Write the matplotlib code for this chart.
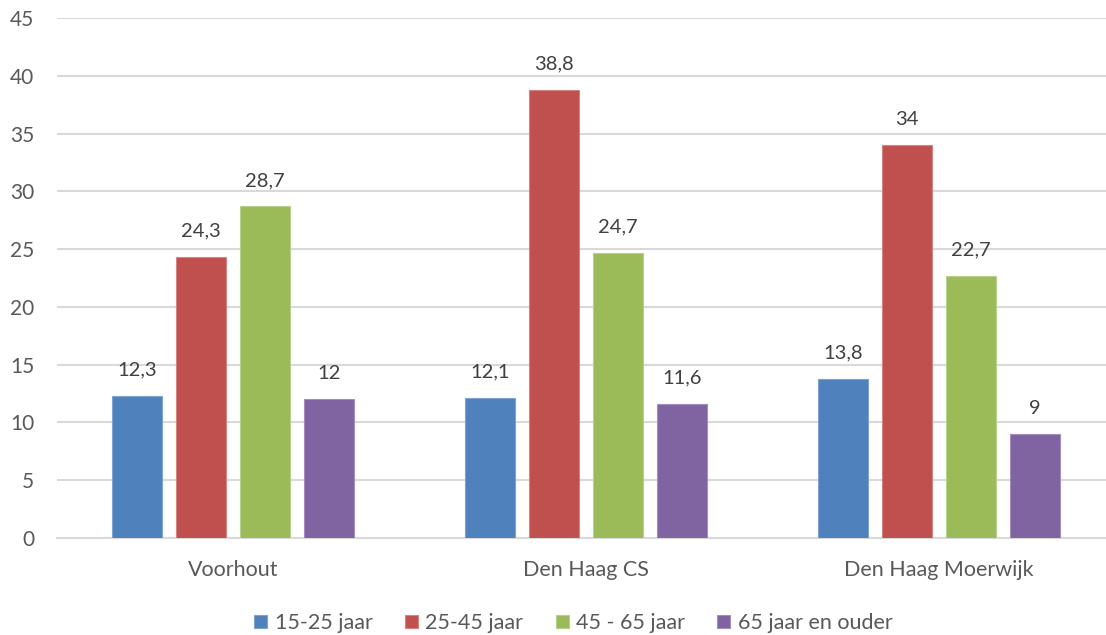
import matplotlib
matplotlib.use("Agg")
import matplotlib.pyplot as plt
import numpy as np

plt.rcParams['font.family'] = ['Lato', 'DejaVu Sans']

locations = ["Voorhout", "Den Haag CS", "Den Haag Moerwijk"]
series_names = ["15-25 jaar", "25-45 jaar", "45 - 65 jaar", "65 jaar en ouder"]
age_15_25 = [12.3, 12.1, 13.8]
age_25_45 = [24.3, 38.8, 34.0]
age_45_65 = [28.7, 24.7, 22.7]
age_65_plus = [12.0, 11.6, 9.0]
y_ticks = [0, 5, 10, 15, 20, 25, 30, 35, 40, 45]

series = [age_15_25, age_25_45, age_45_65, age_65_plus]
colors = ["#4F81BD", "#C0504D", "#9BBB59", "#8064A2"]
edges = ["#7FA3D0", "#D48583", "#B7D08B", "#A38DBE"]
text_col = "#595959"
grid_col = "#D9D9D9"


def fmt(v):
    s = f"{v:.1f}".replace(".", ",")
    return s[:-2] if s.endswith(",0") else s


fig = plt.figure(figsize=(11.06, 6.35), dpi=100)
ax = fig.add_axes([56.5 / 1106, 97 / 635, 1 - 56.5 / 1106, 520 / 635])

x = np.arange(len(locations))
width = 0.1416
step = 0.1813
offsets = (np.arange(len(series)) - 1.5) * step

handles = []
for vals, name, c, ec, off in zip(series, series_names, colors, edges, offsets):
    bars = ax.bar(x + off, vals, width, color=c, edgecolor=ec, linewidth=0.8,
                  label=name, zorder=3)
    handles.append(bars)
    for xi, v in zip(x + off, vals):
        ax.annotate(fmt(v), (xi, v), xytext=(0, 12.5), textcoords="offset points",
                    ha="center", va="bottom", fontsize=14.5, color="#404040")

ax.set_ylim(0, 45)
ax.set_xlim(-0.5, 1 + (1106 - 586) / 353)
ax.set_yticks(y_ticks)
ax.set_yticklabels([str(t) for t in y_ticks], fontsize=15, color=text_col)
ax.set_xticks(x)
ax.set_xticklabels(locations, fontsize=15.5, color=text_col)
ax.tick_params(axis="both", length=0)
ax.tick_params(axis="y", pad=16)
ax.tick_params(axis="x", pad=15.5)
ax.yaxis.grid(True, color=grid_col, linewidth=1.5, zorder=0)
for s in ["top", "right", "left"]:
    ax.spines[s].set_visible(False)
ax.spines["bottom"].set_color(grid_col)
ax.spines["bottom"].set_linewidth(1.5)

leg = fig.legend(handles=handles, loc="center", bbox_to_anchor=(573.5 / 1106, 1 - 623 / 635),
                 ncol=4, frameon=False, fontsize=15.5, handlelength=0.6, handleheight=0.6,
                 handletextpad=0.35, columnspacing=1.5)
for t in leg.get_texts():
    t.set_color(text_col)

fig.savefig("out.png", dpi=100)
